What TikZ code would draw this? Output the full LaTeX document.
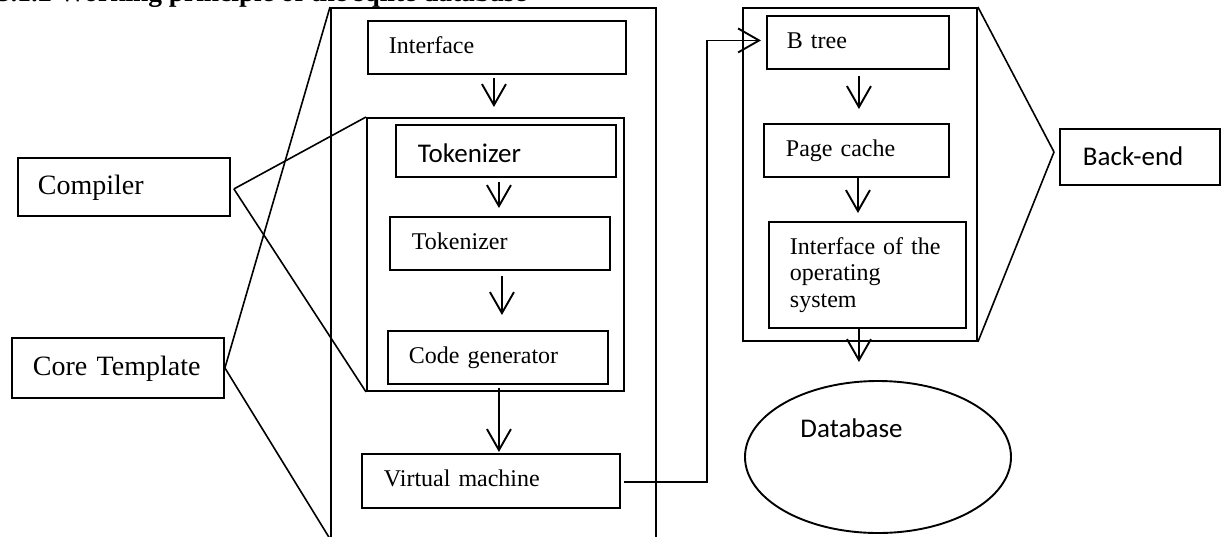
\documentclass[tikz,border=0pt]{standalone}
\usepackage{fontspec}
\setmainfont{Liberation Serif}
\newfontfamily\calibrifont{Carlito}
\usetikzlibrary{arrows.meta,shapes.geometric,calc}
\begin{document}
\begin{tikzpicture}[x=1pt,y=-1pt,line width=1.9pt,
  box/.style={draw,rectangle,anchor=north west,inner ysep=0pt,align=left},
  frame/.style={draw,rectangle,anchor=north west,inner sep=0pt},
  tnr/.style={font=\fontsize{24}{26.5}\selectfont,text height=17pt,text depth=5pt},
  tnrbig/.style={font=\fontsize{28}{31}\selectfont,text height=20pt,text depth=5pt},
  cal/.style={font=\calibrifont\fontsize{27}{30}\selectfont,text height=18pt,text depth=5pt},
  link/.style={line width=1.6pt},
  arr/.style={-{Straight Barb[length=21pt,width=24pt]}}]
\path[use as bounding box] (0,0) rectangle (1225,536);
\clip (0,0) rectangle (1225,536);

% heading (partly above the page edge)
\node[anchor=base west,inner sep=0pt,font=\bfseries\fontsize{27.4}{30}\selectfont]
  (title) at (-4,1.5) {3.1.2 Working principle of the sqlite database};

% front-end column
\node[frame,minimum width=325pt,minimum height=530pt] (outerA) at (330,7) {};
\node[box,tnr,minimum width=258pt,minimum height=53pt,inner xsep=21pt,text width=216pt] (iface) at (367,20) {Interface};
\node[frame,minimum width=257pt,minimum height=273pt] (compbox) at (366,117) {};
\node[box,cal,minimum width=220pt,minimum height=52pt,inner xsep=22pt,text width=176pt] (tokA) at (395,124) {\raisebox{-5.5pt}{Tokenizer}};
\node[box,tnr,minimum width=220pt,minimum height=53pt,inner xsep=22pt,text width=176pt] (tokB) at (389,216) {Tokenizer};
\node[box,tnr,minimum width=220pt,minimum height=53pt,inner xsep=21pt,text width=178pt] (codegen) at (387,330) {Code generator};
\node[box,tnr,minimum width=258pt,minimum height=54pt,inner xsep=22pt,text width=214pt] (vm) at (361,453) {Virtual machine};

% back-end column
\node[frame,minimum width=234pt,minimum height=333pt] (outerB) at (742,7) {};
\node[box,tnr,minimum width=182pt,minimum height=53pt,inner xsep=20pt,text width=142pt] (btree) at (766,15) {B tree};
\node[box,tnr,minimum width=185pt,minimum height=53pt,inner xsep=22pt,text width=141pt] (page) at (763,123) {Page cache};
\node[box,font=\fontsize{24}{26.5}\selectfont,minimum width=197pt,minimum height=106pt,inner xsep=20pt,text width=155pt] (os) at (768,221)
  {\makebox[155pt][s]{Interface of the}\\operating\\system};
\node[draw,ellipse,cal,inner sep=0pt,minimum width=266pt,minimum height=152pt] (db) at (878,457)
  {\raisebox{26pt}{Database}\hspace*{53pt}};

% labels on the sides
\node[box,tnrbig,minimum width=212pt,minimum height=58pt,inner xsep=20pt,text width=172pt] (compiler) at (17,157) {Compiler};
\node[box,tnrbig,minimum width=212pt,minimum height=60pt,inner xsep=21pt,text width=170pt] (core) at (11,337) {Core Template};
\node[box,cal,minimum width=160pt,minimum height=56pt,inner xsep=23pt,text width=114pt] (backend) at (1059,128) {\raisebox{-2.5pt}{Back-end}};

% brackets joining the labels to their groups
\draw[link] ([xshift=3pt,yshift=-2pt]compiler.east) -- (compbox.north west);
\draw[link] ([xshift=3pt,yshift=-2pt]compiler.east) -- (compbox.south west);
\draw[link] (core.east) -- (outerA.north west);
\draw[link] (core.east) -- (outerA.south west);
\draw[link] (outerB.north east) -- ([xshift=-5pt,yshift=5pt]backend.west);
\draw[link] (outerB.south east) -- ([xshift=-5pt,yshift=5pt]backend.west);

% data flow
\draw[arr,shorten <=3pt,shorten >=10pt] ([xshift=-3pt]iface.south) -- ([xshift=-3pt]iface.south |- compbox.north);
\draw[arr,shorten <=4pt,shorten >=8pt] ([xshift=-7pt]tokA.south) -- ([xshift=-7pt]tokA.south |- tokB.north);
\draw[arr,shorten <=5pt,shorten >=15pt] ([xshift=2pt]tokB.south) -- ([xshift=2pt]tokB.south |- codegen.north);
\draw[arr,shorten <=3pt,shorten >=1pt] ([xshift=1pt]codegen.south) -- ([xshift=1pt]codegen.south |- vm.north);
\draw[arr,shorten <=3pt,shorten >=5pt] ([yshift=-1pt]vm.east) -- ++(86,0) |- ([yshift=2pt]btree.west);
\draw[arr,shorten <=6pt,shorten >=14pt] ([xshift=1pt]btree.south) -- ([xshift=1pt]btree.south |- page.north);
\draw[arr,shorten >=8pt] ([xshift=1.5pt]page.south) -- ([xshift=1.5pt]page.south |- os.north);
\draw[arr,shorten >=18pt] ([xshift=-8.5pt]os.south) -- ([xshift=-8.5pt]os.south |- db.north);
\end{tikzpicture}
\end{document}
